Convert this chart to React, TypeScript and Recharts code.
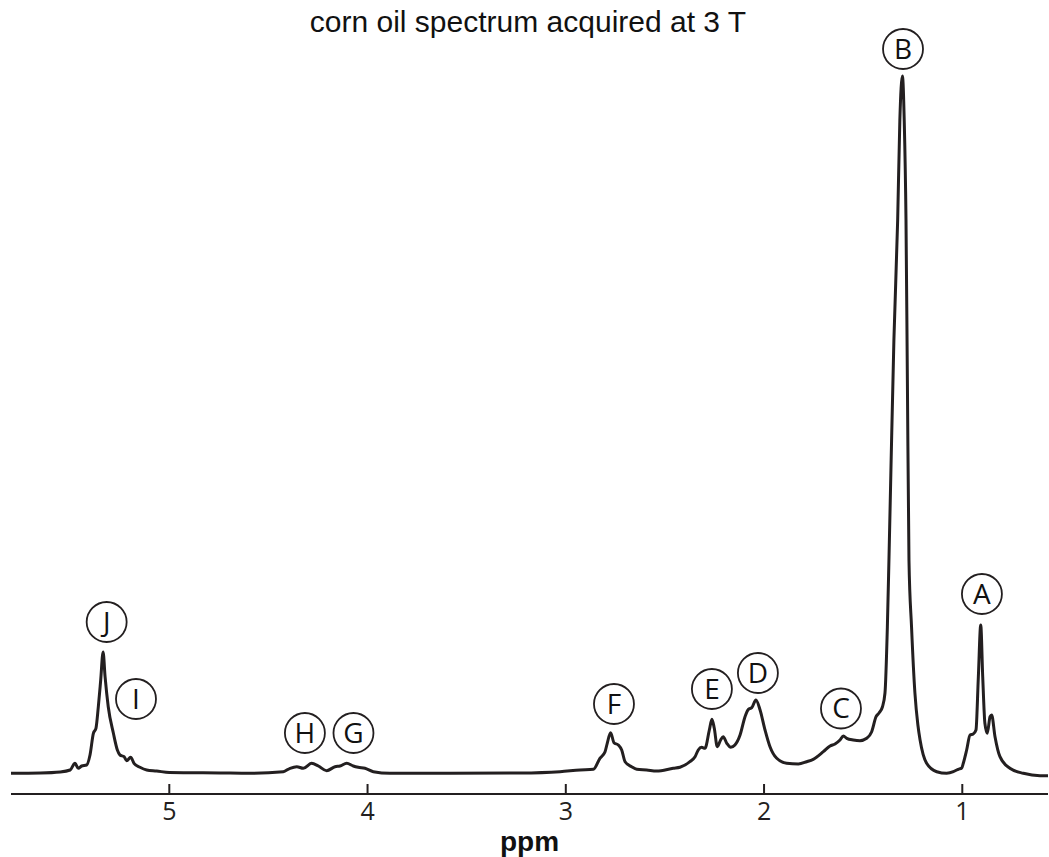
import React from 'react';
import { LineChart, Line, XAxis, YAxis, ReferenceDot } from 'recharts';

// chemical shift (ppm) and signal height
const ppm = [
  5.8, 5.65, 5.55, 5.5, 5.476, 5.459, 5.442, 5.417, 5.4, 5.383, 5.37, 5.358, 5.346, 5.334, 5.324, 5.308,
  5.282, 5.262, 5.249, 5.228, 5.215, 5.195, 5.178, 5.148, 5.114, 5.064, 5.0, 4.744, 4.593, 4.425, 4.391,
  4.357, 4.324, 4.282, 4.248, 4.206, 4.164, 4.139, 4.105, 4.072, 4.047, 4.013, 3.971, 3.887, 3.584, 3.231,
  3.029, 2.928, 2.861, 2.828, 2.802, 2.791, 2.774, 2.757, 2.735, 2.718, 2.701, 2.668, 2.642, 2.592, 2.542,
  2.458, 2.424, 2.374, 2.348, 2.332, 2.315, 2.298, 2.276, 2.263, 2.251, 2.236, 2.219, 2.206, 2.188, 2.168,
  2.147, 2.121, 2.096, 2.079, 2.062, 2.041, 2.02, 1.995, 1.97, 1.936, 1.886, 1.827, 1.785, 1.752, 1.701,
  1.667, 1.642, 1.617, 1.6, 1.583, 1.55, 1.516, 1.482, 1.457, 1.435, 1.42, 1.403, 1.39, 1.378, 1.37, 1.36,
  1.345, 1.326, 1.315, 1.302, 1.293, 1.284, 1.277, 1.269, 1.256, 1.239, 1.224, 1.213, 1.18, 1.129, 1.079,
  1.045, 1.028, 1.02, 1.003, 0.995, 0.978, 0.961, 0.945, 0.931, 0.919, 0.907, 0.897, 0.886, 0.874, 0.86,
  0.852, 0.835, 0.81, 0.76, 0.692, 0.608, 0.565,
];
const intensity = [
  2.7, 3, 4, 6, 12.7, 7.7, 10, 11, 21, 42.7, 47.7, 69.3, 96, 124, 99.3, 69.3,
  42.7, 26, 21, 19.3, 15.3, 18.7, 12.7, 8.7, 6, 5, 3.5, 3, 2.7, 4.3, 7.7,
  9.3, 7.7, 12.7, 10, 5.3, 9.3, 10, 12.7, 10, 8.7, 7.7, 4.3, 2.7, 2.7, 3,
  4.3, 6, 6.7, 17.7, 24.3, 32.7, 43.3, 33.3, 31, 26, 14.3, 9.3, 6.7, 6, 5,
  7.7, 8.7, 14.3, 19.3, 26, 28.7, 27.7, 46, 56.7, 47.7, 29.3, 36, 39.3, 32.7, 28.7,
  31, 41, 59.3, 66.7, 68.3, 76, 66, 46, 29.3, 17.7, 12.7, 12, 14.3, 16.7, 24.3,
  30, 32, 36, 40, 37.7, 36, 35.3, 37.7, 44.3, 59.3, 63, 69, 83, 149, 216, 306,
  436, 556, 656, 700, 656, 556, 396, 216, 149, 83, 51, 36, 12.7, 4.3, 2.7,
  4.3, 6, 6.7, 8, 12.7, 26, 41, 42, 46, 99.3, 151, 99.3, 52.7, 42.7, 59.3,
  61, 39.3, 19.3, 7.7, 2.7, 0.3, 0.3,
];

// circled peak labels
const peakNames = ['A', 'B', 'C', 'D', 'E', 'F', 'G', 'H', 'I', 'J'];
const peakPpm = [0.901, 1.299, 1.612, 2.031, 2.263, 2.757, 4.071, 4.316, 5.168, 5.316];
const peakLevel = [182, 727, 67.5, 103, 87, 72, 43, 43, 77, 154];

const ppmTicks = [5, 4, 3, 2, 1];

const data = ppm.map((p, i) => ({ ppm: p, v: intensity[i] }));

const INK = '#231f20';

const App: React.FC = () => {
  return (
    <div style={{ position: 'absolute', left: 0, top: 0, width: 1049, height: 857, background: '#fff' }}>
      <div
        style={{
          position: 'absolute',
          left: 0,
          top: 7,
          width: 1056,
          textAlign: 'center',
          fontFamily: '"Liberation Sans", Arial, sans-serif',
          fontSize: 30,
          lineHeight: '30px',
          color: '#111',
        }}
      >
        corn oil spectrum acquired at 3 T
      </div>
      <LineChart width={1049} height={857} data={data} margin={{ top: 26, right: 1, bottom: 0, left: 11 }}>
        <XAxis
          dataKey="ppm"
          type="number"
          domain={[0.5677, 5.7985]}
          allowDataOverflow
          reversed
          ticks={ppmTicks}
          height={63}
          stroke={INK}
          strokeWidth={2}
          tickSize={-10}
          tickMargin={18}
          tick={{ fill: INK, fontSize: 25, fontFamily: '"Open Sans", sans-serif' }}
          label={{
            value: 'ppm',
            position: 'insideBottom',
            offset: 6,
            fill: '#111',
            fontSize: 28,
            fontWeight: 'bold',
            fontFamily: '"Liberation Sans", Arial, sans-serif',
          }}
        />
        <YAxis hide type="number" domain={[-18, 750]} />
        <Line
          type="monotone"
          dataKey="v"
          stroke={INK}
          strokeWidth={3}
          dot={false}
          isAnimationActive={false}
        />
        {peakNames.map((name, i) => (
          <ReferenceDot
            key={name}
            x={peakPpm[i]}
            y={peakLevel[i]}
            r={20}
            fill="#fff"
            stroke={INK}
            strokeWidth={1.8}
            ifOverflow="visible"
            label={{
              value: name,
              position: 'center',
              fill: '#111',
              fontSize: 28,
              fontFamily: '"Open Sans", sans-serif',
            }}
          />
        ))}
      </LineChart>
    </div>
  );
};

export default App;
